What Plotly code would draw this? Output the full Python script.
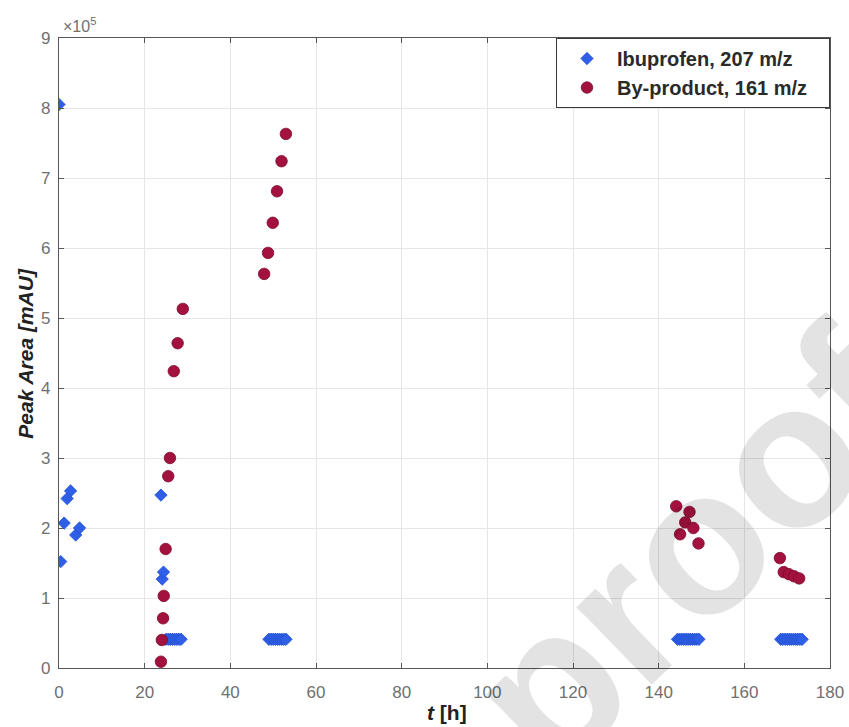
import plotly.graph_objects as go

# Ibuprofen peak area (207 m/z) vs time
ibu_t = [0.0, 0.4, 1.2, 1.9, 2.7, 3.9, 4.8, 23.8, 24.1, 24.4,
         25.0, 25.5, 26.0, 26.5, 27.0, 27.5, 28.0, 28.5,
         49.0, 49.5, 50.0, 50.5, 51.0, 51.5, 52.0, 52.5, 53.0,
         144.4, 144.9, 145.4, 145.9, 146.4, 146.9, 147.4, 147.9, 148.4, 148.9, 149.4,
         168.5, 169.0, 169.5, 170.0, 170.5, 171.0, 171.5, 172.0, 172.5, 173.0, 173.5]
ibu_area = [805000, 152000, 207000, 242000, 253000, 190000, 200000, 247000, 127000, 137000,
            41000, 41000, 41000, 41000, 41000, 41000, 41000, 41000,
            41000, 41000, 41000, 41000, 41000, 41000, 41000, 41000, 41000,
            41000, 41000, 41000, 41000, 41000, 41000, 41000, 41000, 41000, 41000, 41000,
            41000, 41000, 41000, 41000, 41000, 41000, 41000, 41000, 41000, 41000, 41000]

# By-product peak area (161 m/z) vs time
byp_t = [23.8, 24.0, 24.3, 24.45, 24.9, 25.5, 25.9, 26.8, 27.7, 28.9,
         47.9, 48.8, 49.9, 50.9, 51.95, 52.97,
         144.1, 145.0, 146.2, 147.2, 148.1, 149.3,
         168.3, 169.2, 170.4, 171.6, 172.8]
byp_area = [9000, 40000, 71000, 103000, 170000, 274000, 300000, 424000, 464000, 513000,
            563000, 593000, 636000, 681000, 724000, 763000,
            231000, 191000, 208000, 223000, 200000, 178000,
            157000, 137000, 134000, 131000, 128000]

x_ticks = [0, 20, 40, 60, 80, 100, 120, 140, 160, 180]
y_ticks = [0, 100000, 200000, 300000, 400000, 500000, 600000, 700000, 800000, 900000]
y_tick_labels = ["0", "1", "2", "3", "4", "5", "6", "7", "8", "9"]

FONT = "Liberation Sans, Arial, Helvetica, sans-serif"
AXIS_COLOR = "#575757"
TICK_COLOR = "#707070"
GRID_COLOR = "#e6e6e6"
PAD = "\u00a0\u00a0\u00a0"  # right padding inside the legend box

fig = go.Figure()
fig.add_trace(go.Scatter(
    x=ibu_t, y=ibu_area, mode="markers", name="Ibuprofen, 207 m/z" + PAD,
    marker=dict(symbol="diamond", size=9.5, color="#2f5fe6",
                line=dict(width=0.8, color="#2350d0")),
))
fig.add_trace(go.Scatter(
    x=byp_t, y=byp_area, mode="markers", name="By-product, 161 m/z" + PAD,
    marker=dict(symbol="circle", size=11.5, color="#a3123f",
                line=dict(width=0.8, color="#7d0a2c")),
))

axis_common = dict(
    showline=True, linecolor=AXIS_COLOR, linewidth=1.3, mirror="ticks",
    ticks="inside", ticklen=5, tickcolor=AXIS_COLOR, tickwidth=1,
    showgrid=True, gridcolor=GRID_COLOR, gridwidth=1, zeroline=False,
    tickfont=dict(family=FONT, size=17, color=TICK_COLOR),
)

fig.update_xaxes(range=[0, 180], tickvals=x_ticks, ticklabelstandoff=8, **axis_common)
fig.update_yaxes(range=[0, 900000], tickvals=y_ticks, ticktext=y_tick_labels,
                 ticklabelstandoff=4, **axis_common)

fig.update_layout(
    width=849, height=727,
    margin=dict(l=59, r=19, t=38, b=59, autoexpand=False),
    paper_bgcolor="white", plot_bgcolor="white",
    font=dict(family=FONT, color="#222222"),
    showlegend=True,
    legend=dict(
        x=1, xanchor="right", y=1, yanchor="top",
        bgcolor="white", bordercolor="#3a3a3a", borderwidth=1,
        font=dict(family=FONT, size=20, color="#2a2a2a", weight="bold"),
        itemwidth=50, tracegroupgap=0,
    ),
    annotations=[
        dict(text="<b>proof</b>", xref="paper", yref="paper",
             x=0.8184, y=0.1903, xanchor="center", yanchor="middle", textangle=-44,
             showarrow=False, font=dict(family=FONT, size=205, color="rgba(0,0,0,0.11)")),
        dict(text="<b><i>Peak Area [mAU]</i></b>", xref="paper", yref="paper",
             x=-0.0445, y=0.5, xanchor="center", yanchor="middle", textangle=-90,
             showarrow=False, font=dict(family=FONT, size=21, color="#222222")),
        dict(text="<b><i>t</i> [h]</b>", xref="paper", yref="paper",
             x=0.503, y=-0.07, xanchor="center", yanchor="middle",
             showarrow=False, font=dict(family=FONT, size=21, color="#222222")),
        dict(text="\u00d710<sup>5</sup>", xref="paper", yref="paper",
             x=0.003, y=1.02, xanchor="left", yanchor="middle",
             showarrow=False, font=dict(family=FONT, size=16, color=TICK_COLOR)),
    ],
)

fig.write_html("out.html")
